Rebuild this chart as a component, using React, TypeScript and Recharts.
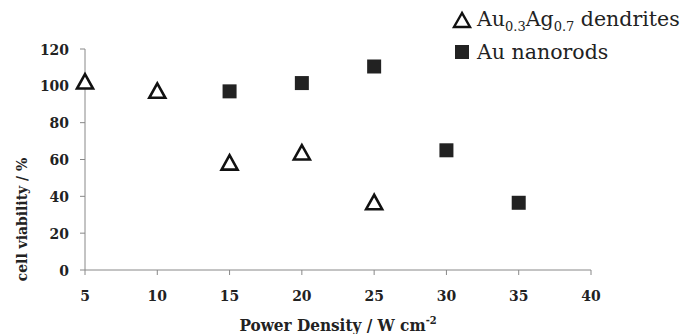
import React from "react";
import { ScatterChart, Scatter, XAxis, YAxis, Legend } from "recharts";

const dendriteX = [5, 10, 15, 20, 25];
const dendriteY = [102, 97, 58, 63.5, 36.5];
const nanorodX = [15, 20, 25, 30, 35];
const nanorodY = [97, 101.5, 110.5, 65, 36.5];
const xTicks = [5, 10, 15, 20, 25, 30, 35, 40];
const yTicks = [0, 20, 40, 60, 80, 100, 120];

const dendrites = dendriteX.map((x, i) => ({ x, y: dendriteY[i] }));
const nanorods = nanorodX.map((x, i) => ({ x, y: nanorodY[i] }));

const FONT = "'DejaVu Serif Condensed', 'DejaVu Serif', serif";
const LEGEND_FONT = "'DejaVu Serif', serif";

const Triangle = (props: any) => {
  const { cx, cy } = props;
  const s = 8;
  return (
    <polygon
      points={`${cx},${cy - s} ${cx - s},${cy + s * 0.8} ${cx + s},${cy + s * 0.8}`}
      fill="#fff"
      stroke="#111"
      strokeWidth={2.6}
      strokeLinejoin="miter"
    />
  );
};

const Square = (props: any) => {
  const { cx, cy } = props;
  const s = 7;
  return <rect x={cx - s} y={cy - s} width={2 * s} height={2 * s} fill="#222" />;
};

const subStyle: React.CSSProperties = { fontSize: 13, position: "relative", top: 5 };

const LegendContent = () => (
  <div style={{ fontFamily: LEGEND_FONT, fontSize: 20.5, color: "#222", lineHeight: "32px", whiteSpace: "nowrap" }}>
    <div style={{ display: "flex", alignItems: "center", height: 32 }}>
      <svg width={22} height={20} style={{ marginRight: 4 }}>
        <polygon points="11,3 3,17 19,17" fill="#fff" stroke="#111" strokeWidth={2.4} />
      </svg>
      <span>
        Au<span style={subStyle}>0.3</span>Ag<span style={subStyle}>0.7</span> dendrites
      </span>
    </div>
    <div style={{ display: "flex", alignItems: "center", height: 32 }}>
      <svg width={22} height={20} style={{ marginRight: 4 }}>
        <rect x={4} y={3} width={14} height={14} fill="#222" />
      </svg>
      <span>Au nanorods</span>
    </div>
  </div>
);

const XLabel = (props: any) => {
  const { viewBox } = props;
  const cx = viewBox.x + viewBox.width / 2;
  return (
    <text x={cx} y={331} textAnchor="middle" fontFamily={FONT} fontStretch="condensed" fontWeight="bold" fontSize={17} fill="#222">
      Power Density / W cm
      <tspan dy={-7} fontSize={11}>-2</tspan>
    </text>
  );
};

export default function App() {
  return (
    <div style={{ position: "absolute", left: 0, top: 0 }}>
      <ScatterChart width={691} height={334} margin={{ top: 49, right: 100, bottom: 0, left: 0 }}>
        <XAxis
          type="number"
          dataKey="x"
          domain={[5, 40]}
          ticks={xTicks}
          height={64}
          stroke="#888"
          tickSize={5}
          tickMargin={15}
          tick={{ fontFamily: FONT, fontStretch: "condensed", fontWeight: "bold", fontSize: 15.5, fill: "#222" }}
          tickLine={{ stroke: "#888" }}
          label={<XLabel />}
        />
        <YAxis
          type="number"
          dataKey="y"
          domain={[0, 120]}
          ticks={yTicks}
          width={85}
          stroke="#888"
          tickSize={5}
          tickMargin={11}
          tick={{ fontFamily: FONT, fontStretch: "condensed", fontWeight: "bold", fontSize: 15.5, fill: "#222" }}
          tickLine={{ stroke: "#888" }}
          label={{
            value: "cell viability / %",
            angle: -90,
            position: "insideLeft",
            dx: 16,
            dy: 60,
            style: { fontFamily: FONT, fontStretch: "condensed", fontWeight: "bold", fontSize: 15.5, fill: "#222", textAnchor: "middle" },
          }}
        />
        <Legend
          layout="vertical"
          align="center"
          verticalAlign="middle"
          content={<LegendContent />}
          wrapperStyle={{ left: 451, top: 4, width: 240 }}
        />
        <Scatter name="dendrites" data={dendrites} shape={<Triangle />} isAnimationActive={false} />
        <Scatter name="nanorods" data={nanorods} shape={<Square />} isAnimationActive={false} />
      </ScatterChart>
    </div>
  );
}
